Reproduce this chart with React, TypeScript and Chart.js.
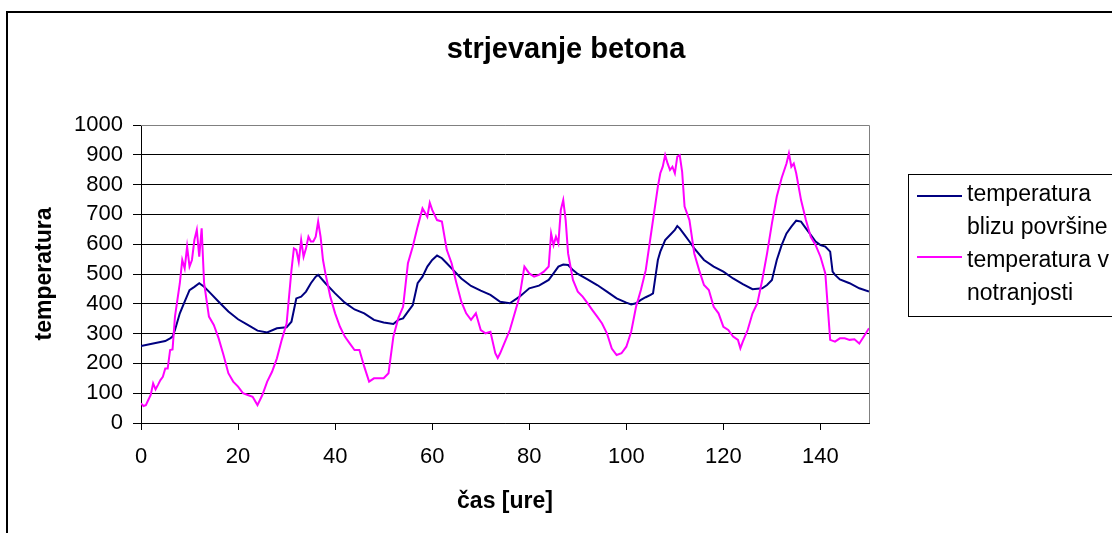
import { useEffect, useRef } from "react";
import { Chart, registerables } from "chart.js";

Chart.register(...registerables);

const titleText = "strjevanje betona";
const xAxisTitle = "čas [ure]";
const yAxisTitle = "temperatura";
const legendLines = [
  ["temperatura", "blizu površine"],
  ["temperatura v", "notranjosti"],
];

const blueHours = [
  0, 2, 4, 5, 6, 6.5, 7, 8, 9, 10, 11, 12, 13, 14, 16, 18, 20, 22, 24, 26, 28, 30, 31, 32, 33, 34, 35, 36, 36.5, 38,
  40, 42, 44, 46, 48, 50, 52, 53, 54, 55, 56, 57, 58, 59, 60, 61, 62, 63, 64, 66, 68, 70, 72, 74, 76, 78, 80, 82, 84,
  85, 86, 87, 88, 89, 90, 92, 94, 96, 98, 100, 101, 102, 103, 104, 105, 105.5, 106, 106.5, 107, 108, 109, 110, 110.5,
  111, 112, 113, 114, 116, 118, 120, 122, 124, 126, 128, 129, 130, 131, 132, 133, 134, 135, 136, 137, 138, 139, 140,
  141, 142, 142.5, 143, 144, 146, 148, 150,
];
const blueTemps = [
  258, 265, 272, 275, 284, 290, 312, 368, 407, 446, 457, 469, 457, 441, 407, 374, 348, 329, 310, 304, 318, 321, 340,
  418, 424, 441, 469, 491, 497, 469, 435, 404, 381, 368, 346, 337, 332, 346, 351, 374, 396, 469, 491, 525, 547, 562,
  553, 536, 519, 485, 460, 444, 430, 407, 402, 424, 452, 461, 480, 502, 525, 532, 530, 513, 500, 482, 463, 441, 418,
  404, 398, 402, 413, 422, 430, 435, 491, 547, 575, 614, 631, 648, 661, 653, 631, 609, 586, 547, 525, 508, 485, 466,
  449, 452, 463, 480, 547, 597, 636, 659, 679, 676, 653, 631, 609, 597, 592, 575, 508, 497, 482, 469, 452, 441,
];

const pinkHours = [
  0, 0.5, 1, 1.5, 2, 2.5, 3, 3.5, 4, 4.5, 5, 5.5, 6, 6.5, 7, 7.5, 8, 8.5, 9, 9.5, 10, 10.5, 11, 11.5, 12, 12.5, 13,
  13.5, 14, 15, 16, 17, 18, 19, 20, 21, 22, 23, 24, 25, 26, 27, 28, 29, 30, 31, 31.5, 32, 32.5, 33, 33.5, 34, 34.5,
  35, 35.5, 36, 36.5, 37, 37.5, 38, 39, 40, 41, 42, 43, 44, 45, 46, 47, 48, 49, 50, 51, 52, 53, 54, 55, 56, 57, 58,
  59, 59.5, 60, 61, 62, 63, 64, 65, 66, 67, 68, 69, 70, 71, 72, 73, 73.5, 74, 75, 76, 77, 78, 79, 80, 81, 82, 83, 84,
  84.5, 85, 85.5, 86, 86.5, 87, 87.5, 88, 89, 90, 91, 92, 93, 94, 95, 96, 97, 98, 99, 100, 101, 102, 103, 104, 105,
  106, 106.5, 107, 107.5, 108, 108.5, 109, 109.5, 110, 110.5, 111, 111.5, 112, 113, 114, 115, 116, 117, 118, 119, 120,
  121, 122, 123, 123.5, 124, 125, 126, 127, 128, 129, 130, 131, 132, 133, 133.5, 134, 134.5, 135, 136, 137, 138, 139,
  140, 141, 141.5, 142, 143, 144, 145, 146, 147, 148, 149, 150,
];
const pinkTemps = [
  66, 57, 60, 77, 94, 133, 113, 128, 144, 155, 183, 183, 245, 247, 357, 413, 469, 547, 519, 592, 525, 547, 614, 648,
  558, 653, 469, 413, 357, 329, 284, 228, 167, 139, 122, 100, 94, 88, 60, 94, 139, 172, 217, 279, 334, 513, 586, 581,
  541, 614, 558, 586, 625, 609, 609, 625, 676, 625, 547, 502, 424, 368, 323, 290, 267, 245, 245, 189, 139, 150, 150,
  150, 167, 290, 351, 390, 536, 592, 659, 720, 692, 739, 715, 681, 676, 581, 536, 469, 407, 368, 346, 368, 312, 301,
  306, 234, 218, 234, 273, 312, 368, 424, 525, 502, 491, 497, 508, 525, 636, 597, 625, 603, 715, 748, 681, 569, 480,
  441, 424, 402, 379, 357, 334, 301, 250, 228, 234, 256, 306, 390, 446, 513, 625, 737, 793, 838, 860, 899, 871, 849,
  860, 838, 894, 899, 843, 726, 681, 569, 513, 463, 446, 390, 368, 323, 312, 290, 279, 251, 273, 312, 368, 402, 480,
  569, 670, 760, 822, 871, 905, 860, 871, 838, 748, 681, 625, 597, 558, 502, 390, 279, 273, 284, 284, 279, 281, 267,
  292, 318,
];

const FONT = "'Liberation Sans', Arial, sans-serif";
const BLUE = "#000080";
const PINK = "#FF00FF";

const toPoints = (xs: number[], ys: number[]) => xs.map((x, i) => ({ x, y: ys[i] }));

const framePlugin = {
  id: "frame",
  afterDraw(chart: any) {
    const ctx = chart.ctx as CanvasRenderingContext2D;
    const a = chart.chartArea;
    ctx.save();
    // outer chart border (clipped on right and bottom)
    ctx.strokeStyle = "#000";
    ctx.lineWidth = 2;
    ctx.beginPath();
    ctx.moveTo(7, 560);
    ctx.lineTo(7, 12);
    ctx.lineTo(1130, 12);
    ctx.stroke();
    // plot area top/right border
    ctx.strokeStyle = "#808080";
    ctx.lineWidth = 1;
    ctx.beginPath();
    ctx.moveTo(a.left, Math.round(a.top) + 0.5);
    ctx.lineTo(Math.round(a.right) + 0.5, Math.round(a.top) + 0.5);
    ctx.lineTo(Math.round(a.right) + 0.5, a.bottom);
    ctx.stroke();
    // legend
    ctx.strokeStyle = "#000";
    ctx.lineWidth = 1;
    ctx.strokeRect(908.5, 174.5, 400, 142);
    const colors = [BLUE, PINK];
    const lineY = [196, 257];
    const baselines = [
      [201, 234],
      [267, 300],
    ];
    ctx.font = `23px ${FONT}`;
    ctx.fillStyle = "#000";
    ctx.textAlign = "left";
    ctx.textBaseline = "alphabetic";
    legendLines.forEach((lines, i) => {
      ctx.strokeStyle = colors[i];
      ctx.lineWidth = 2;
      ctx.beginPath();
      ctx.moveTo(917, lineY[i]);
      ctx.lineTo(962, lineY[i]);
      ctx.stroke();
      lines.forEach((t, j) => ctx.fillText(t, 967, baselines[i][j]));
    });
    ctx.restore();
  },
};

export default function App() {
  const ref = useRef<HTMLCanvasElement | null>(null);
  useEffect(() => {
    if (!ref.current) return;
    const chart = new Chart(ref.current, {
      type: "line",
      data: {
        datasets: [
          {
            label: legendLines[0].join(" "),
            data: toPoints(blueHours, blueTemps),
            borderColor: BLUE,
            backgroundColor: BLUE,
            borderWidth: 2,
            pointRadius: 0,
            tension: 0,
            order: 2,
          },
          {
            label: legendLines[1].join(" "),
            data: toPoints(pinkHours, pinkTemps),
            borderColor: PINK,
            backgroundColor: PINK,
            borderWidth: 2,
            pointRadius: 0,
            tension: 0,
            order: 1,
          },
        ],
      },
      options: {
        animation: false,
        responsive: false,
        devicePixelRatio: 1,
        layout: { padding: { left: 20, right: 0, top: 0, bottom: 0 } },
        plugins: {
          legend: { display: false },
          tooltip: { enabled: false },
          title: {
            display: true,
            text: titleText,
            color: "#000",
            font: { family: FONT, size: 29, weight: "bold" },
            padding: { top: 32.6, bottom: 57.6 },
          },
        },
        scales: {
          x: {
            type: "linear",
            min: 0,
            max: 150,
            afterFit: (s: any) => {
              s.height = 110;
            },
            ticks: {
              stepSize: 20,
              includeBounds: false,
              color: "#000",
              font: { family: FONT, size: 22 },
              padding: 14,
              maxRotation: 0,
              callback: (v: any) => String(v),
            },
            grid: { drawOnChartArea: false, drawTicks: true, tickLength: 7, color: "#000", tickColor: "#000" },
            border: { display: true, color: "#000", width: 1 },
            title: {
              display: true,
              text: xAxisTitle,
              color: "#000",
              font: { family: FONT, size: 23, weight: "bold" },
              padding: { top: 4, bottom: 17.6 },
            },
          },
          y: {
            type: "linear",
            min: 0,
            max: 1000,
            afterFit: (s: any) => {
              s.width = 121;
            },
            ticks: {
              stepSize: 100,
              color: "#000",
              font: { family: FONT, size: 22 },
              padding: 10,
              callback: (v: any) => String(v),
            },
            grid: {
              color: (c: any) => (c.tick && c.tick.value === 1000 ? "#808080" : "#000"),
              tickColor: "#000",
              tickLength: 8,
              lineWidth: 1,
            },
            border: { display: true, color: "#000", width: 1 },
            title: {
              display: true,
              text: yAxisTitle,
              color: "#000",
              font: { family: FONT, size: 23, weight: "bold" },
              padding: { top: 11, bottom: 4 },
            },
          },
          legendSpace: {
            type: "linear",
            position: "right",
            min: 0,
            max: 1,
            afterFit: (s: any) => {
              s.width = 243;
            },
            ticks: { display: false },
            grid: { display: false },
            border: { display: false },
            title: { display: false },
          },
        },
      },
      plugins: [framePlugin],
    } as any);
    return () => chart.destroy();
  }, []);
  return (
    <div style={{ position: "fixed", left: 0, top: 0, width: 1112, height: 533, background: "#fff" }}>
      <canvas ref={ref} width={1112} height={533} style={{ display: "block" }} />
    </div>
  );
}
